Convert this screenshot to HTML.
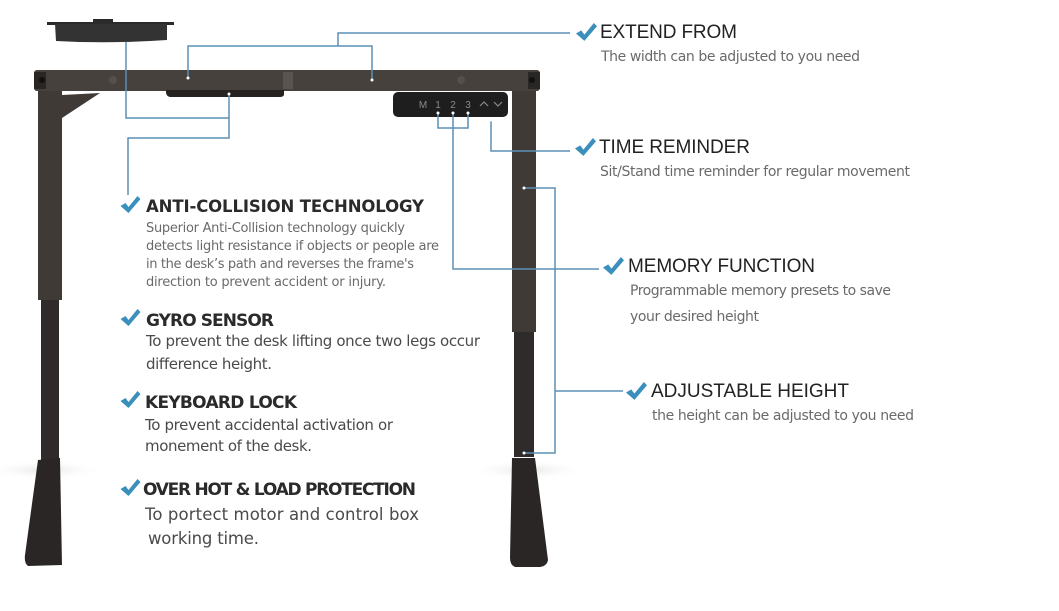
<!DOCTYPE html>
<html><head><meta charset="utf-8"><style>
html,body{margin:0;padding:0;background:#fff;}
svg{display:block}
.h{font-family:"Liberation Sans",sans-serif;fill:#222;}
.hb{font-family:"DejaVu Sans","Liberation Sans",sans-serif;font-weight:bold;fill:#2a2a2a;}
.b{font-family:"DejaVu Sans","Liberation Sans",sans-serif;fill:#6a6a6a;}
.bd{font-family:"DejaVu Sans","Liberation Sans",sans-serif;fill:#4a4a4a;}
</style></head><body>
<svg width="1059" height="611" viewBox="0 0 1059 611" xmlns="http://www.w3.org/2000/svg">
<defs>
<radialGradient id="sh" cx="50%" cy="50%" r="50%"><stop offset="0" stop-color="#e6e6e6"/><stop offset="1" stop-color="#fff" stop-opacity="0"/></radialGradient>
<symbol id="ck" viewBox="0 0 20 18"><path d="M0 10 L5 7 L8 11 L17 0 L20 3 L8 17 Z" fill="#3a8fbd"/></symbol>
</defs>
<ellipse cx="45" cy="470" rx="60" ry="10" fill="url(#sh)"/>
<ellipse cx="528" cy="470" rx="60" ry="10" fill="url(#sh)"/>
<!-- control box -->
<rect x="47" y="22" width="127" height="3" fill="#2b2b2b"/>
<rect x="93" y="19" width="20" height="4" fill="#2b2b2b"/>
<path d="M55 24 H167 V40 Q110 44 56 41 Z" fill="#333"/>
<!-- legs -->
<rect x="38" y="88" width="24" height="212" fill="#403a37"/>
<rect x="41" y="300" width="18" height="160" fill="#2f2b2a"/>
<path d="M38 460 L60 458 L62 565 L28 566 Q24 563 25 555 Z" fill="#2a2625"/>
<path d="M62 95 L100 93 L62 118 Z" fill="#403a37"/>
<rect x="512" y="88" width="24" height="244" fill="#403a37"/>
<rect x="514" y="332" width="20" height="125" fill="#2f2b2a"/>
<path d="M512 458 L535 458 L548 560 Q547 566 540 567 L515 567 Q510 565 510 558 Z" fill="#2a2625"/>
<!-- beam -->
<rect x="34" y="70" width="506" height="21" rx="3" fill="#47413e"/>
<rect x="34" y="72" width="12" height="17" fill="#2a2624"/>
<rect x="528" y="72" width="12" height="17" fill="#2a2624"/>
<circle cx="42" cy="80" r="3" fill="#111"/><circle cx="532" cy="80" r="3" fill="#111"/>
<circle cx="113" cy="80" r="4" fill="#55504c"/><circle cx="461" cy="80" r="4" fill="#55504c"/>
<rect x="283" y="72" width="10" height="17" fill="#5a5450"/>
<path d="M166 90 H284 V95 Q283 97 280 97 H170 Q166 96 166 92 Z" fill="#262220"/>
<!-- panel -->
<rect x="393" y="92" width="115" height="25" rx="5" fill="#1e1e1e"/>
<g font-family="Liberation Sans,sans-serif" font-size="10" fill="#8a8a8a" text-anchor="middle">
<text x="423" y="108">M</text><text x="438" y="108">1</text><text x="453" y="108">2</text><text x="468" y="108">3</text></g>
<path d="M480 106 l4 -4 l4 4 M494 102 l4 4 l4 -4" stroke="#8a8a8a" stroke-width="1.2" fill="none"/>
<!-- connectors -->
<g stroke="#5b8fb5" stroke-width="1.5" fill="none">
<path d="M188 78 V46 H372 V80 M338 46 V33 H570"/>
<path d="M126 42 V118 H229 M229 94 V138 H128 V195"/>
<path d="M438 113 V128 H468 V113 M453 113 V269 H599"/>
<path d="M491 120 V151 H570"/>
<path d="M524 188 H555 V453 H524 M555 391 H623"/>
</g>
<g fill="#fff"><circle cx="188" cy="78" r="1.5"/><circle cx="372" cy="80" r="1.5"/><circle cx="229" cy="94" r="1.5"/><circle cx="438" cy="113" r="1.5"/><circle cx="453" cy="113" r="1.5"/><circle cx="468" cy="113" r="1.5"/><circle cx="491" cy="120" r="1.5"/><circle cx="524" cy="188" r="1.5"/><circle cx="524" cy="453" r="1.5"/></g>
<!-- right texts -->
<use href="#ck" x="576" y="23" width="21" height="19"/>
<text class="h" x="600" y="38" font-size="19" textLength="137">EXTEND FROM</text>
<text class="b" x="601" y="61" font-size="14" textLength="259">The width can be adjusted to you need</text>
<use href="#ck" x="575" y="138" width="21" height="19"/>
<text class="h" x="599" y="153" font-size="19" textLength="151">TIME REMINDER</text>
<text class="b" x="600" y="176" font-size="14" textLength="310">Sit/Stand time reminder for regular movement</text>
<use href="#ck" x="603" y="257" width="21" height="19"/>
<text class="h" x="628" y="272" font-size="19" textLength="187">MEMORY FUNCTION</text>
<text class="b" x="630" y="295" font-size="14" textLength="261">Programmable memory presets to save</text>
<text class="b" x="630" y="321" font-size="14" textLength="129">your desired height</text>
<use href="#ck" x="626" y="382" width="21" height="19"/>
<text class="h" x="651" y="397" font-size="19" textLength="198">ADJUSTABLE HEIGHT</text>
<text class="b" x="652" y="420" font-size="14" textLength="262">the height can be adjusted to you need</text>
<!-- left texts -->
<use href="#ck" x="120" y="196" width="21" height="18"/>
<text class="hb" x="146" y="212" font-size="16.5" textLength="278">ANTI-COLLISION TECHNOLOGY</text>
<text class="b" x="146" y="232" font-size="13" textLength="259">Superior Anti-Collision technology quickly</text>
<text class="b" x="146" y="250" font-size="13" textLength="293">detects light resistance if objects or people are</text>
<text class="b" x="146" y="268" font-size="13" textLength="268">in the desk’s path and reverses the frame's</text>
<text class="b" x="146" y="286" font-size="13" textLength="240">direction to prevent accident or injury.</text>
<use href="#ck" x="120" y="309" width="21" height="18"/>
<text class="hb" x="146" y="326" font-size="17" textLength="128">GYRO SENSOR</text>
<text class="bd" x="146" y="346" font-size="15" textLength="334">To prevent the desk lifting once two legs occur</text>
<text class="bd" x="146" y="369" font-size="15" textLength="126">difference height.</text>
<use href="#ck" x="120" y="391" width="21" height="18"/>
<text class="hb" x="145" y="408" font-size="17" textLength="152">KEYBOARD LOCK</text>
<text class="bd" x="145" y="430" font-size="15" textLength="248">To prevent accidental activation or</text>
<text class="bd" x="145" y="451" font-size="15" textLength="167">monement of the desk.</text>
<use href="#ck" x="120" y="479" width="21" height="18"/>
<text class="hb" x="143" y="495" font-size="17" textLength="273">OVER HOT &amp; LOAD PROTECTION</text>
<text class="bd" x="145" y="520" font-size="16.5" textLength="274">To portect motor and control box</text>
<text class="bd" x="148" y="544" font-size="16.5" textLength="111">working time.</text>
</svg>
</body></html>
